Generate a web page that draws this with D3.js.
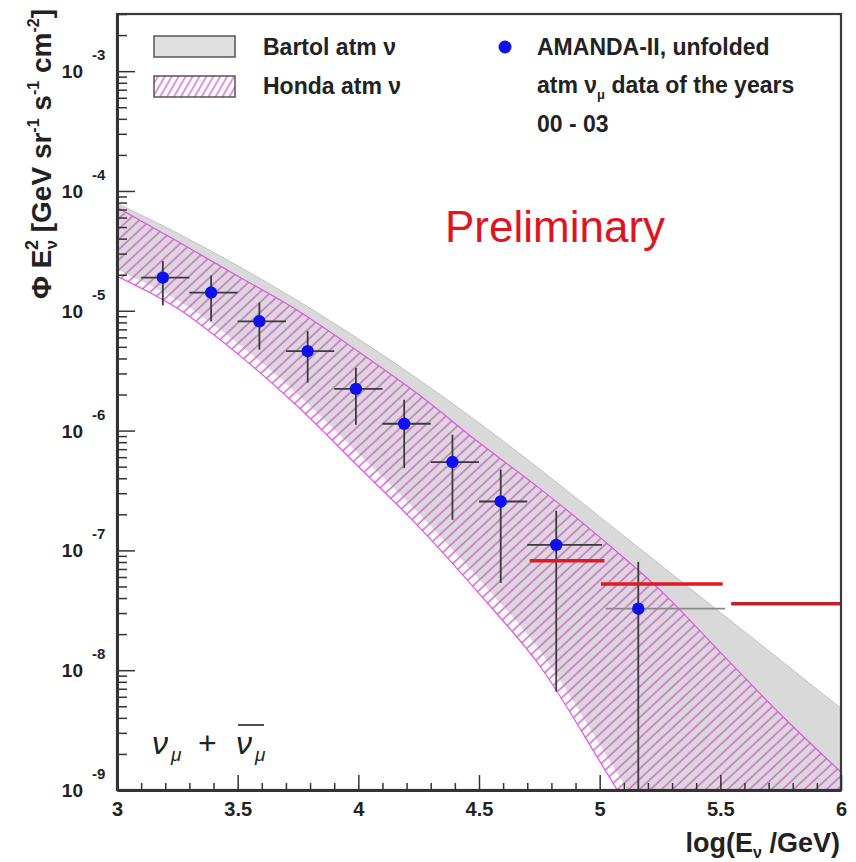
<!DOCTYPE html>
<html>
<head>
<meta charset="utf-8">
<script src="https://cdn.jsdelivr.net/npm/d3@7"></script>
<style>
  html, body { margin: 0; padding: 0; background: #fff; }
  svg { display: block; }
  text { font-family: "Liberation Sans", Arial, Helvetica, sans-serif; }
</style>
</head>
<body>
<svg id="chart" width="856" height="862"></svg>
<script>
// ---------------- DATA ----------------
const xDomain = [3, 6];
const yDomain = [1e-9, 3e-3];

// Bartol atm nu band
const bartolUpperE    = [3.0, 3.25, 3.5, 3.75, 4.0, 4.25, 4.5, 4.75, 5.0, 5.25, 5.5, 5.75, 6.0];
const bartolUpperFlux = [7.89e-5, 4.45e-5, 2.38e-5, 1.21e-5, 5.83e-6, 2.67e-6, 1.16e-6, 4.80e-7, 1.91e-7, 7.62e-8, 3.03e-8, 1.21e-8, 4.81e-9];
const bartolLowerE    = [3.0, 3.25, 3.5, 3.75, 4.0, 4.25, 4.5, 4.75, 5.0, 5.1, 5.15];
const bartolLowerFlux = [2.21e-5, 1.23e-5, 5.37e-6, 2.00e-6, 6.46e-7, 2.04e-7, 5.75e-8, 1.48e-8, 2.40e-9, 1.12e-9, 7.4e-10];

// Honda atm nu band
const hondaUpperE    = [3.0, 3.25, 3.5, 3.75, 4.0, 4.25, 4.5, 4.75, 5.0, 5.25, 5.5, 5.75, 6.0];
const hondaUpperFlux = [7.30e-5, 3.80e-5, 1.95e-5, 1.00e-5, 4.57e-6, 2.00e-6, 7.94e-7, 3.31e-7, 1.29e-7, 4.68e-8, 1.41e-8, 4.27e-9, 1.41e-9];
const hondaLowerE    = [3.0, 3.25, 3.5, 3.75, 4.0, 4.25, 4.5, 4.75, 5.0, 5.1];
const hondaLowerFlux = [1.94e-5, 1.05e-5, 4.37e-6, 1.58e-6, 5.01e-7, 1.58e-7, 4.37e-8, 1.10e-8, 1.74e-9, 8.1e-10];

// AMANDA-II unfolded points
const pointE    = [3.19, 3.39, 3.59, 3.79, 3.99, 4.19, 4.39, 4.59, 4.82, 5.16];
const binLow    = [3.10, 3.30, 3.50, 3.70, 3.90, 4.10, 4.30, 4.50, 4.70, 5.025];
const binHigh   = [3.30, 3.50, 3.70, 3.90, 4.10, 4.30, 4.50, 4.70, 5.01, 5.52];
const pointFlux = [1.89e-5, 1.42e-5, 8.17e-6, 4.60e-6, 2.23e-6, 1.14e-6, 5.46e-7, 2.56e-7, 1.11e-7, 3.26e-8];
const errHigh   = [2.60e-5, 1.97e-5, 1.17e-5, 6.76e-6, 3.34e-6, 1.81e-6, 9.25e-7, 4.72e-7, 2.14e-7, 8.03e-8];
const errLow    = [1.11e-5, 8.17e-6, 4.74e-6, 2.51e-6, 1.12e-6, 4.86e-7, 1.80e-7, 5.35e-8, 6.62e-9, 1.0e-9];

// red horizontal limits
const limLow  = [4.71, 5.005, 5.545];
const limHigh = [5.02, 5.51, 6.0];
const limFlux = [8.2e-8, 5.24e-8, 3.58e-8];

// ticks
const xMajorTicks  = [3, 3.5, 4, 4.5, 5, 5.5, 6];
const xTickLabels  = ["3", "3.5", "4", "4.5", "5", "5.5", "6"];
const yMajorExp    = [-9, -8, -7, -6, -5, -4, -3];
const yTickLabels  = ["-9", "-8", "-7", "-6", "-5", "-4", "-3"];

// ---------------- DRAW ----------------
const L = 117, R = 841, T = 14, B = 790;
const svg = d3.select("#chart");
const x = d3.scaleLinear().domain(xDomain).range([L, R]);
const y = d3.scaleLog().domain(yDomain).range([B, T]);

const defs = svg.append("defs");
defs.append("clipPath").attr("id", "plotclip")
  .append("rect").attr("x", L).attr("y", T).attr("width", R - L).attr("height", B - T);

const hatch = defs.append("pattern").attr("id", "hatch")
  .attr("patternUnits", "userSpaceOnUse").attr("width", 7.5).attr("height", 7.5)
  .attr("patternTransform", "rotate(47)");
hatch.append("line").attr("x1", 1).attr("y1", 0).attr("x2", 1).attr("y2", 7.5)
  .attr("stroke", "#d763d7").attr("stroke-width", 1.5);

const hatchLeg = defs.append("pattern").attr("id", "hatchLeg")
  .attr("patternUnits", "userSpaceOnUse").attr("width", 6).attr("height", 6)
  .attr("patternTransform", "rotate(30)");
hatchLeg.append("line").attr("x1", 1).attr("y1", 0).attr("x2", 1).attr("y2", 6)
  .attr("stroke", "#d763d7").attr("stroke-width", 1.4);

svg.append("rect").attr("width", 856).attr("height", 862).attr("fill", "#fff");

const plot = svg.append("g").attr("clip-path", "url(#plotclip)");

const lineGen = d3.line().x(d => x(d[0])).y(d => y(d[1])).curve(d3.curveCatmullRom.alpha(0.5));
function bandPath(uE, uF, lE, lF) {
  const up = uE.map((e, i) => [e, uF[i]]);
  const lo = lE.map((e, i) => [e, lF[i]]).reverse();
  const p1 = lineGen(up);
  const p2 = lineGen(lo);
  return p1 + "L" + x(xDomain[1]) + "," + (B + 30) + "L" + p2.slice(1) + "Z";
}

// Bartol band (gray)
plot.append("path")
  .attr("d", bandPath(bartolUpperE, bartolUpperFlux, bartolLowerE, bartolLowerFlux))
  .attr("fill", "#d9d9d9").attr("stroke", "none");
plot.append("path")
  .attr("d", lineGen(bartolUpperE.map((e, i) => [e, bartolUpperFlux[i]])))
  .attr("fill", "none").attr("stroke", "#c4c4c4").attr("stroke-width", 1);

// Honda band (hatched)
plot.append("path")
  .attr("d", bandPath(hondaUpperE, hondaUpperFlux, hondaLowerE, hondaLowerFlux))
  .attr("fill", "url(#hatch)").attr("stroke", "none");
plot.append("path")
  .attr("d", lineGen(hondaUpperE.map((e, i) => [e, hondaUpperFlux[i]])))
  .attr("fill", "none").attr("stroke", "#e254e2").attr("stroke-width", 1.2);
plot.append("path")
  .attr("d", lineGen(hondaLowerE.map((e, i) => [e, hondaLowerFlux[i]])))
  .attr("fill", "none").attr("stroke", "#e254e2").attr("stroke-width", 1.2);

// error bars
const pts = pointE.map((e, i) => ({e, f: pointFlux[i], lo: binLow[i], hi: binHigh[i], eh: errHigh[i], el: errLow[i], i}));
plot.selectAll(".ebx").data(pts).join("line")
  .attr("x1", d => x(d.lo)).attr("x2", d => x(d.hi))
  .attr("y1", d => y(d.f)).attr("y2", d => y(d.f))
  .attr("stroke", d => d.i === pts.length - 1 ? "#8a8a8a" : "#3a3a3a").attr("stroke-width", 1.8);
plot.selectAll(".eby").data(pts).join("line")
  .attr("x1", d => x(d.e)).attr("x2", d => x(d.e))
  .attr("y1", d => y(d.eh)).attr("y2", d => Math.min(y(d.el), B + 5))
  .attr("stroke", "#3a3a3a").attr("stroke-width", 1.8);

// red limits
const lims = limLow.map((l, i) => ({l, h: limHigh[i], f: limFlux[i], i}));
plot.selectAll(".lim").data(lims).join("line")
  .attr("x1", d => x(d.l)).attr("x2", d => x(d.h))
  .attr("y1", d => y(d.f)).attr("y2", d => y(d.f))
  .attr("stroke", d => d.i === 2 ? "#c0202a" : "#e01a22").attr("stroke-width", 3.5);

// points
plot.selectAll(".pt").data(pts).join("circle")
  .attr("cx", d => x(d.e)).attr("cy", d => y(d.f)).attr("r", 6.2)
  .attr("fill", "#1010ee");

// frame
svg.append("rect").attr("x", L).attr("y", T).attr("width", R - L).attr("height", B - T)
  .attr("fill", "none").attr("stroke", "#3a3a3a").attr("stroke-width", 2.2);

// X axis
const xMinor = d3.range(30, 61).map(v => v / 10).filter(v => !xMajorTicks.some(m => Math.abs(m - v) < 1e-6));
svg.append("g").attr("transform", `translate(0,${B})`)
  .call(d3.axisBottom(x).tickValues(xMinor).tickSizeInner(-7).tickSizeOuter(0).tickFormat(""))
  .call(g => g.select(".domain").remove())
  .call(g => g.selectAll("line").attr("stroke", "#333").attr("stroke-width", 1.5));
svg.append("g").attr("transform", `translate(0,${B})`)
  .call(d3.axisBottom(x).tickValues(xMajorTicks).tickSizeInner(-15).tickSizeOuter(0).tickPadding(12)
        .tickFormat((d, i) => xTickLabels[i]))
  .call(g => g.select(".domain").attr("stroke", "#333").attr("stroke-width", 3))
  .call(g => g.selectAll("line").attr("stroke", "#333").attr("stroke-width", 1.5))
  .call(g => g.selectAll("text").attr("font-size", 20).attr("font-weight", "bold")
        .attr("fill", "#222").attr("font-family", "Liberation Sans, Arial, sans-serif"));

// Y axis
const yMajorVals = yMajorExp.map(e => Math.pow(10, e));
const yMinorVals = [];
for (let e = -9; e <= -3; e++) for (let k = 2; k <= 9; k++) {
  const v = k * Math.pow(10, e);
  if (v <= yDomain[1] * 1.0001) yMinorVals.push(v);
}
svg.append("g").attr("transform", `translate(${L},0)`)
  .call(d3.axisLeft(y).tickValues(yMinorVals).tickSizeInner(-10).tickSizeOuter(0).tickFormat(""))
  .call(g => g.select(".domain").remove())
  .call(g => g.selectAll("line").attr("stroke", "#333").attr("stroke-width", 1.5));
svg.append("g").attr("transform", `translate(${L},0)`)
  .call(d3.axisLeft(y).tickValues(yMajorVals).tickSizeInner(-18).tickSizeOuter(0).tickFormat(""))
  .call(g => g.select(".domain").attr("stroke", "#333").attr("stroke-width", 3))
  .call(g => g.selectAll("line").attr("stroke", "#333").attr("stroke-width", 1.5));

const yl = svg.append("g").attr("fill", "#222").attr("font-weight", "bold");
yMajorVals.forEach((v, i) => {
  yl.append("text").attr("x", 83).attr("y", y(v) + 7).attr("text-anchor", "end")
    .attr("font-size", 19).text("10");
  yl.append("text").attr("x", 92).attr("y", y(v) - 11).attr("font-size", 15).text(yTickLabels[i]);
});

// Axis titles
const yt = svg.append("text").attr("transform", "translate(51,9) rotate(-90)")
  .attr("text-anchor", "end").attr("font-size", 28).attr("font-weight", "bold").attr("fill", "#222");
yt.append("tspan").text("\u03A6 E");
yt.append("tspan").attr("font-size", 17).attr("dy", 6).text("\u03BD");
yt.append("tspan").attr("font-size", 18).attr("dx", -10).attr("dy", -19).text("2");
yt.append("tspan").attr("dy", 13).text(" [GeV sr");
yt.append("tspan").attr("font-size", 16).attr("dy", -12).text("-1");
yt.append("tspan").attr("dy", 12).text(" s");
yt.append("tspan").attr("font-size", 16).attr("dy", -12).text("-1");
yt.append("tspan").attr("dy", 12).text(" cm");
yt.append("tspan").attr("font-size", 16).attr("dy", -12).text("-2");
yt.append("tspan").attr("dy", 12).text("]");

const xt = svg.append("text").attr("x", 840).attr("y", 852).attr("text-anchor", "end")
  .attr("font-size", 27).attr("font-weight", "bold").attr("fill", "#222");
xt.append("tspan").text("log(E");
xt.append("tspan").attr("font-size", 16).attr("dy", 6).text("\u03BD");
xt.append("tspan").attr("dy", -6).text(" /GeV)");

// Legend
const leg = svg.append("g");
leg.append("rect").attr("x", 154).attr("y", 36).attr("width", 81).attr("height", 21)
  .attr("fill", "#e0e0e0").attr("stroke", "#555").attr("stroke-width", 1.5);
leg.append("rect").attr("x", 154).attr("y", 76).attr("width", 81).attr("height", 21)
  .attr("fill", "#fff").attr("stroke", "none");
leg.append("rect").attr("x", 154).attr("y", 76).attr("width", 81).attr("height", 21)
  .attr("fill", "url(#hatchLeg)").attr("stroke", "#555").attr("stroke-width", 1.5);
leg.append("text").attr("x", 263).attr("y", 55).attr("font-size", 23).attr("font-weight", "bold")
  .attr("fill", "#222").text("Bartol atm \u03BD");
leg.append("text").attr("x", 263).attr("y", 94).attr("font-size", 23).attr("font-weight", "bold")
  .attr("fill", "#222").text("Honda atm \u03BD");

leg.append("circle").attr("cx", 505).attr("cy", 47).attr("r", 6.5).attr("fill", "#1010ee");
leg.append("text").attr("x", 537).attr("y", 55).attr("font-size", 23).attr("font-weight", "bold")
  .attr("fill", "#222").text("AMANDA-II, unfolded");
const l2 = leg.append("text").attr("x", 537).attr("y", 93).attr("font-size", 23).attr("font-weight", "bold")
  .attr("fill", "#222");
l2.append("tspan").text("atm \u03BD");
l2.append("tspan").attr("font-size", 13).attr("dy", 6).text("\u03BC");
l2.append("tspan").attr("dy", -6).text(" data of the years");
leg.append("text").attr("x", 537).attr("y", 132).attr("font-size", 23).attr("font-weight", "bold")
  .attr("fill", "#222").text("00 - 03");

svg.append("text").attr("x", 445).attr("y", 242).attr("font-size", 44)
  .attr("fill", "#e0141e").text("Preliminary");

// nu_mu + anti-nu_mu label
const ann = svg.append("g").attr("font-family", "Liberation Serif, Times New Roman, serif").attr("fill", "#222");
ann.append("text").attr("x", 152).attr("y", 754).attr("font-size", 32).attr("font-style", "italic").text("\u03BD");
ann.append("text").attr("x", 171).attr("y", 761).attr("font-size", 19).attr("font-style", "italic").text("\u03BC");
ann.append("text").attr("x", 198).attr("y", 754).attr("font-size", 32).text("+");
ann.append("text").attr("x", 236).attr("y", 754).attr("font-size", 32).attr("font-style", "italic").text("\u03BD");
ann.append("line").attr("x1", 238).attr("x2", 264).attr("y1", 725).attr("y2", 725)
  .attr("stroke", "#222").attr("stroke-width", 1.6);
ann.append("text").attr("x", 255).attr("y", 761).attr("font-size", 19).attr("font-style", "italic").text("\u03BC");
</script>
</body>
</html>
